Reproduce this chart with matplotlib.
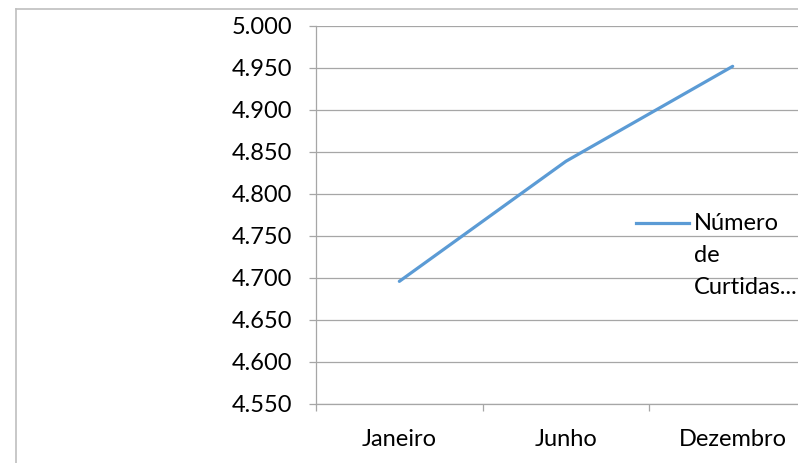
import matplotlib
matplotlib.use('Agg')
import matplotlib.pyplot as plt
from matplotlib.lines import Line2D

categories = ['Janeiro', 'Junho', 'Dezembro']
values = [4696, 4839, 4952]
legend_lines = ['Número', 'de', 'Curtidas...']
y_ticks = [4550, 4600, 4650, 4700, 4750, 4800, 4850, 4900, 4950, 5000]
y_tick_labels = ['4.550', '4.600', '4.650', '4.700', '4.750',
                 '4.800', '4.850', '4.900', '4.950', '5.000']

plt.rcParams['font.family'] = ['Lato', 'DejaVu Sans']

W, H = 798, 463
fig = plt.figure(figsize=(W / 100, H / 100), dpi=100)
fig.patch.set_facecolor('white')

LINE_COLOR = '#5B9BD5'
GRID_COLOR = '#A6A6A6'
FS = 17

ax = fig.add_axes([316 / W, (H - 404) / H, 500 / W, 378 / H])
x = list(range(len(categories)))
line, = ax.plot(x, values, color=LINE_COLOR, lw=2.3, solid_capstyle='round', clip_on=False)

ax.set_xlim(-0.5, len(categories) - 0.5)
ax.set_ylim(y_ticks[0], y_ticks[-1])
ax.set_yticks(y_ticks)
ax.set_yticklabels(y_tick_labels)
ax.set_xticks(x)
ax.set_xticklabels(categories)
ax.set_xticks([i - 0.5 for i in range(len(categories) + 1)], minor=True)

ax.grid(axis='y', color=GRID_COLOR, lw=0.9)
ax.set_axisbelow(True)
for s in ['top', 'right']:
    ax.spines[s].set_visible(False)
for s in ['left', 'bottom']:
    ax.spines[s].set_color(GRID_COLOR)
    ax.spines[s].set_linewidth(0.9)

ax.tick_params(axis='y', which='major', length=5.2, width=0.9, color=GRID_COLOR,
               direction='out', pad=12, labelsize=FS, labelcolor='black')
ax.tick_params(axis='x', which='major', length=0, pad=18, labelsize=FS, labelcolor='black')
ax.tick_params(axis='x', which='minor', length=5.2, width=0.9, color=GRID_COLOR, direction='out')

# legend (manual, Excel-style wrapped label)
fig.add_artist(Line2D([636 / W, 689 / W], [1 - 223 / H, 1 - 223 / H],
                      color=LINE_COLOR, lw=2.3, transform=fig.transFigure))
for i, t in enumerate(legend_lines):
    fig.text(694 / W, 1 - (224 + 32 * i) / H, t, fontsize=FS, va='center', ha='left')

# outer chart-area border (partially cropped)
border = '#BFBFBF'
fig.add_artist(Line2D([16 / W, 16 / W], [0, 1 - 9 / H], color=border, lw=1.2, transform=fig.transFigure))
fig.add_artist(Line2D([16 / W, 1], [1 - 9 / H, 1 - 9 / H], color=border, lw=1.2, transform=fig.transFigure))

fig.savefig('out.png', dpi=100)
